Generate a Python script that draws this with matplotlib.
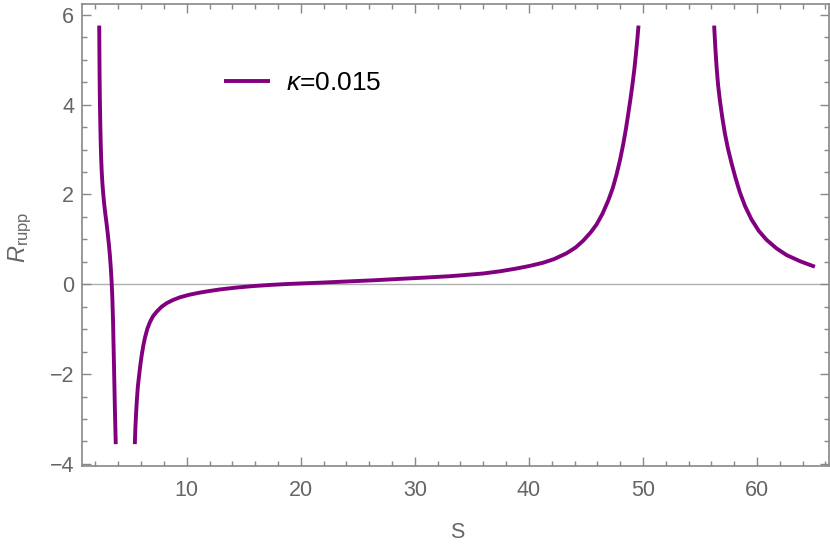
import numpy as np
import matplotlib.pyplot as plt
from matplotlib.ticker import MultipleLocator

plt.rcParams['font.family'] = ['Liberation Sans', 'DejaVu Sans']
plt.rcParams['mathtext.fontset'] = 'custom'
plt.rcParams['mathtext.rm'] = 'Liberation Sans'
plt.rcParams['mathtext.it'] = 'Liberation Sans:italic'

# values, three branches of R_rupp(S), kappa = 0.015
s_left = [2.33, 2.345, 2.36, 2.38, 2.40, 2.43, 2.46, 2.50, 2.55, 2.61, 2.68, 2.76, 2.86, 2.97,
          3.08, 3.18, 3.27, 3.35, 3.42, 3.48, 3.54, 3.59, 3.65, 3.71, 3.78]
r_left = [5.76, 5.20, 4.70, 4.25, 3.90, 3.50, 3.15, 2.80, 2.50, 2.24, 2.02, 1.80, 1.58, 1.36,
          1.12, 0.88, 0.63, 0.35, 0.05, -0.30, -0.80, -1.40, -2.10, -2.85, -3.56]

s_mid = [5.45, 5.50, 5.56, 5.63, 5.72, 5.85, 5.95, 6.06, 6.20, 6.35, 6.55, 6.78, 7.05, 7.37, 7.80,
         8.25, 8.80, 9.41, 10.2, 11.17, 12.0, 12.92, 14.3, 15.84, 17.3, 18.76, 20.2, 21.68, 24.3,
         26.5, 28.7, 31.0, 33.1, 34.6, 36.0, 37.5, 38.9, 40.1, 41.25, 42.2, 43.3, 44.1, 44.76,
         45.4, 45.93, 46.45, 46.95, 47.35, 47.69, 48.0, 48.27, 48.5, 48.7, 48.9, 49.09, 49.25,
         49.38, 49.5, 49.61]
r_mid = [-3.56, -3.20, -2.88, -2.58, -2.27, -1.98, -1.77, -1.57, -1.36, -1.18, -0.99, -0.84,
         -0.71, -0.61, -0.50, -0.42, -0.35, -0.29, -0.235, -0.185, -0.15, -0.115, -0.075, -0.04,
         -0.015, 0.005, 0.02, 0.035, 0.065, 0.09, 0.12, 0.15, 0.18, 0.21, 0.24, 0.29, 0.35, 0.41,
         0.48, 0.56, 0.69, 0.82, 0.97, 1.15, 1.33, 1.57, 1.86, 2.14, 2.45, 2.78, 3.12, 3.45, 3.78,
         4.12, 4.47, 4.80, 5.12, 5.44, 5.76]

s_right = [56.24, 56.34, 56.45, 56.58, 56.74, 56.95, 57.18, 57.45, 57.77, 58.10, 58.49, 58.95,
           59.52, 60.15, 60.83, 61.70, 62.59, 63.80, 65.07]
r_right = [5.76, 5.28, 4.85, 4.45, 4.10, 3.72, 3.36, 3.02, 2.69, 2.38, 2.05, 1.74, 1.44, 1.19,
           0.99, 0.80, 0.65, 0.51, 0.39]

purple = '#800080'
grey = '#666666'

fig = plt.figure(figsize=(8.3, 5.47), dpi=100)
ax = fig.add_axes([0.0992, 0.1486, 0.8992, 0.8441])

ax.axhline(0, color='#b0b0b0', lw=1.0, zorder=1)
ax.plot(s_left, r_left, color=purple, lw=2.8, label=r'$\kappa$=0.015', solid_capstyle='butt')
ax.plot(s_mid, r_mid, color=purple, lw=2.8, solid_capstyle='butt')
ax.plot(s_right, r_right, color=purple, lw=2.8, solid_capstyle='butt')

ax.set_xlim(0.85, 66.28)
ax.set_ylim(-4.04, 6.24)

ax.xaxis.set_major_locator(MultipleLocator(10))
ax.xaxis.set_minor_locator(MultipleLocator(2))
ax.yaxis.set_major_locator(MultipleLocator(2))
ax.yaxis.set_minor_locator(MultipleLocator(0.5))

ax.tick_params(which='both', direction='in', top=True, right=True, color='#888888',
               labelcolor=grey, labelsize=15.5, width=1)
ax.tick_params(which='major', length=6.5)
ax.tick_params(which='minor', length=3.8)
ax.tick_params(axis='x', which='major', pad=10)
ax.tick_params(axis='y', which='major', pad=6)
ax.set_yticks([-4, -2, 0, 2, 4, 6])
ax.set_yticklabels(['\u22124', '\u22122', '0', '2', '4', '6'])

for sp in ax.spines.values():
    sp.set_color('#888888')
    sp.set_linewidth(1.2)

ax.set_xlabel('S', fontsize=15.5, color=grey, va='center')
ax.xaxis.set_label_coords(0.503, -0.1436)
ax.set_ylabel(r'$R_{\mathrm{rupp}}$', fontsize=17, color=grey, va='center')
ax.yaxis.set_label_coords(-0.083, 0.495)

ax.legend(loc='center left', bbox_to_anchor=(0.190, 0.828), frameon=False, fontsize=19,
          handlelength=1.74, handletextpad=0.6, borderpad=0, borderaxespad=0)

fig.savefig('out.png', dpi=100)
